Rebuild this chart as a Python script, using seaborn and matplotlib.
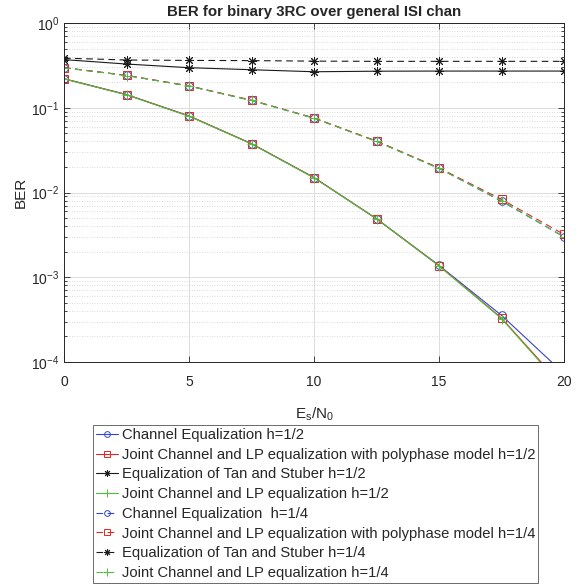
import numpy as np
import pandas as pd
import seaborn as sns
import matplotlib
matplotlib.use("Agg")
import matplotlib.pyplot as plt
from matplotlib.ticker import LogLocator, NullFormatter, MultipleLocator

# ------------------------------------------------------------
# DATA
# ------------------------------------------------------------
snr = [0, 2.5, 5, 7.5, 10, 12.5, 15, 17.5, 20]

# h = 1/2 (solid lines)
ce_h2 = [0.220, 0.143, 0.080, 0.0377, 0.0150, 0.0049, 0.00138, 0.000355, 0.000073]
jp_h2 = [0.220, 0.143, 0.080, 0.0377, 0.0150, 0.0049, 0.00137, 0.000330, 0.000050]
ts_h2 = [0.370, 0.328, 0.297, 0.281, 0.266, 0.270, 0.271, 0.271, 0.271]
jl_h2 = [0.219, 0.142, 0.0795, 0.0375, 0.0149, 0.0049, 0.00136, 0.000325, 0.000048]

# h = 1/4 (dashed lines)
ce_h4 = [0.297, 0.241, 0.181, 0.122, 0.0755, 0.0402, 0.0193, 0.0079, 0.0030]
jp_h4 = [0.297, 0.241, 0.181, 0.123, 0.0757, 0.0405, 0.0195, 0.0083, 0.0032]
ts_h4 = [0.385, 0.366, 0.362, 0.360, 0.355, 0.353, 0.353, 0.353, 0.353]
jl_h4 = [0.296, 0.240, 0.180, 0.122, 0.0752, 0.0400, 0.0192, 0.0080, 0.0030]

labels = [
    "Channel Equalization h=1/2",
    "Joint Channel and LP equalization with polyphase model h=1/2",
    "Equalization of Tan and Stuber h=1/2",
    "Joint Channel and LP equalization h=1/2",
    "Channel Equalization  h=1/4",
    "Joint Channel and LP equalization with polyphase model h=1/4",
    "Equalization of Tan and Stuber h=1/4",
    "Joint Channel and LP equalization h=1/4",
]
series = [ce_h2, jp_h2, ts_h2, jl_h2, ce_h4, jp_h4, ts_h4, jl_h4]

# ------------------------------------------------------------
# STYLE
# ------------------------------------------------------------
sns.set_style("ticks")
plt.rcParams["font.family"] = ["Liberation Sans", "DejaVu Sans"]

colors = ["#3344cc", "#e02828", "#1a1a1a", "#4cc236"]
markers = ["o", "s", (8, 2, 0), "+"]
msizes = [5.5, 5.5, 6.5, 7]
dashed = (0, (6, 4))

fig = plt.figure(figsize=(5.84, 5.87), dpi=100)
ax = fig.add_axes([0.1096, 0.3833, 0.8562, 0.5775])

handles = []
for i, vals in enumerate(series):
    k = i % 4
    ls = "-" if i < 4 else dashed
    sns.lineplot(
        x=snr, y=vals, ax=ax,
        color=colors[k], marker=markers[k], linestyle=ls,
        linewidth=0.8, markersize=msizes[k],
        markerfacecolor="none", markeredgecolor=colors[k],
        markeredgewidth=0.7, sort=False, estimator=None,
    )
    handles.append(ax.get_lines()[-1])

ax.set_yscale("log")
ax.set_xlim(0, 20)
ax.set_ylim(1e-4, 1)
ax.xaxis.set_major_locator(MultipleLocator(5))
ax.yaxis.set_major_locator(LogLocator(base=10))
ax.yaxis.set_minor_locator(LogLocator(base=10, subs=np.arange(2, 10)))
ax.yaxis.set_minor_formatter(NullFormatter())

ax.grid(which="major", color="#dcdcdc", linewidth=0.7, linestyle="-")
ax.grid(which="minor", axis="y", color="#cfcfcf", linewidth=0.6, linestyle=(0, (1, 2)))
ax.set_axisbelow(True)

for sp in ax.spines.values():
    sp.set_visible(True)
    sp.set_color("#262626")
    sp.set_linewidth(0.7)

ax.tick_params(which="both", direction="in", top=True, right=True,
               colors="#262626", labelsize=10, width=0.6)
ax.tick_params(which="major", length=4)
ax.tick_params(which="minor", length=2)
ax.tick_params(axis="x", pad=9)

ax.set_title("BER for binary 3RC over general ISI chan",
             fontsize=10.8, fontweight="bold", pad=5)
ax.set_xlabel(r"E$_\mathregular{s}$/N$_\mathregular{0}$", fontsize=11, labelpad=12)
ax.set_ylabel("BER", fontsize=11, labelpad=2)

leg = ax.legend(
    handles, labels,
    loc="upper left", bbox_to_anchor=(0.159, 0.276),
    bbox_transform=fig.transFigure, borderaxespad=0,
    fontsize=10.6, frameon=True, fancybox=False, markerscale=0.75,
    handlelength=1.5, handletextpad=0.25, labelspacing=0.39,
    borderpad=0.2,
)
leg.get_frame().set_edgecolor("#444444")
leg.get_frame().set_linewidth(0.7)

fig.savefig("out.png", dpi=100)
